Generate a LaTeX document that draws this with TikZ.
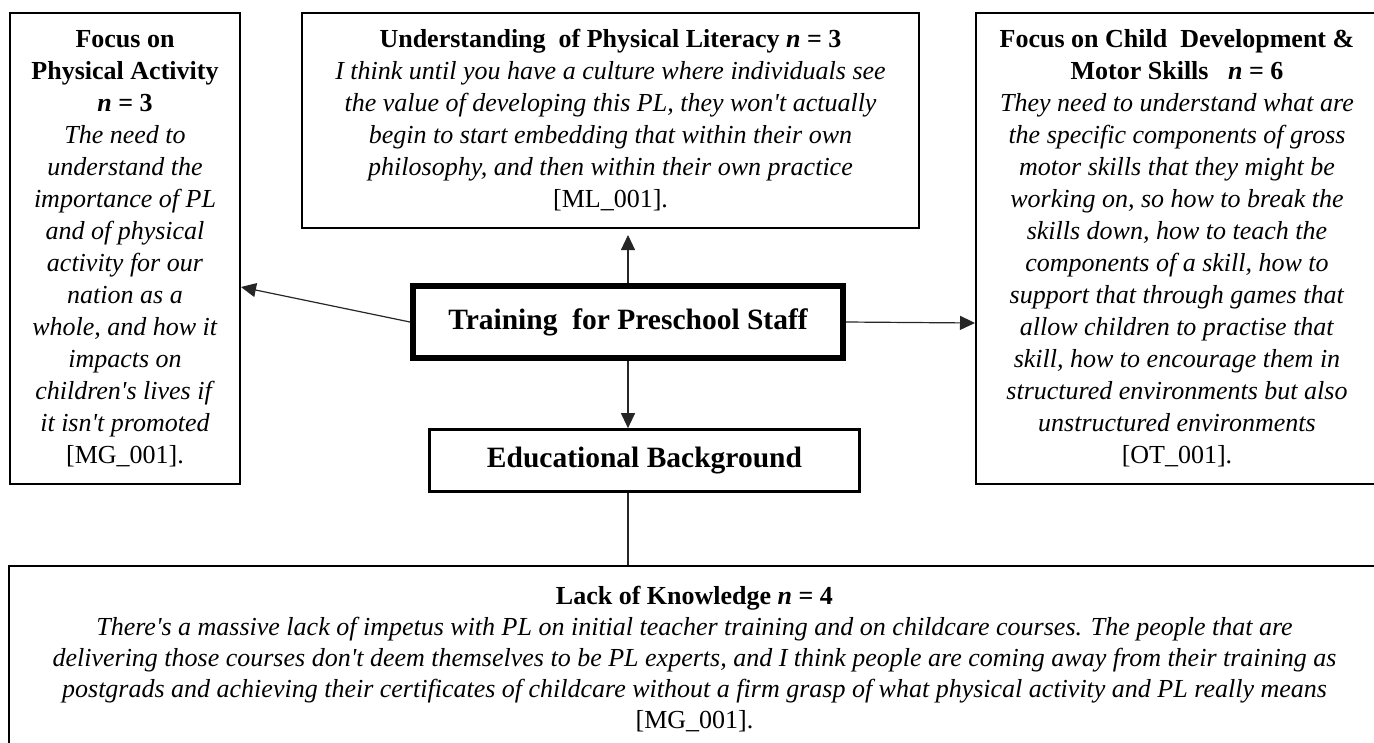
\documentclass[tikz,border=0pt]{standalone}
\usepackage{fontspec}
\setmainfont{Liberation Serif}
\usetikzlibrary{arrows.meta,calc}
\newcommand{\ap}{\textquotesingle}
\begin{document}
\begin{tikzpicture}[x=1pt,y=1pt,
  box/.style={draw, line width=2pt, inner sep=0pt, align=center,
    font=\fontsize{26}{32}\selectfont},
  mainbox/.style={draw, line width=6pt, inner sep=0pt, align=center,
    font=\fontsize{29.5}{34}\selectfont\bfseries},
  subbox/.style={draw, line width=2.7pt, inner sep=0pt, align=center,
    font=\fontsize{29.5}{34}\selectfont\bfseries},
  conn/.style={line width=1.2pt, draw=black!85},
  arr/.style={conn, -{Triangle[length=15pt,width=14pt]}}]
\useasboundingbox (0,0) rectangle (1374,-742);
\clip (0,0) rectangle (1374,-742);

\node[box, minimum width=230pt, minimum height=471pt] (pa) at (125,-248.5)
 {\textbf{Focus on}\\ \textbf{Physical Activity}\\ \textbf{\textit{n} = 3}\\
  \textit{The need to}\\ \textit{understand the}\\ \textit{importance of PL}\\
  \textit{and of physical}\\ \textit{activity for our}\\ \textit{nation as a}\\
  \textit{whole, and how it}\\ \textit{impacts on}\\ \textit{children\ap s lives if}\\
  \textit{it isn\ap t promoted}\\ {[MG\_001].}};

\node[box, minimum width=617pt, minimum height=215pt] (pl) at (610.5,-120.5)
 {\textbf{Understanding\ \ of Physical Literacy \textit{n} = 3}\\
  \textit{I think until you have a culture where individuals see}\\
  \textit{the value of developing this PL, they won\ap t actually}\\
  \textit{begin to start embedding that within their own}\\
  \textit{philosophy, and then within their own practice}\\
  {[ML\_001].}};

\node[box, minimum width=402pt, minimum height=471pt] (cd) at (1177,-248.5)
 {\textbf{Focus on Child\ \ Development \&}\\
  \textbf{Motor Skills\ \ \ \textit{n} = 6}\\
  \textit{They need to understand what are}\\
  \textit{the specific components of gross}\\
  \textit{motor skills that they might be}\\
  \textit{working on, so how to break the}\\
  \textit{skills down, how to teach the}\\
  \textit{components of a skill, how to}\\
  \textit{support that through games that}\\
  \textit{allow children to practise that}\\
  \textit{skill, how to encourage them in}\\
  \textit{structured environments but also}\\
  \textit{unstructured environments}\\
  {[OT\_001].}};

\node[mainbox, minimum width=430pt, minimum height=72pt] (train) at (628,-322)
 {Training\ \ for Preschool Staff};

\node[subbox, minimum width=430pt, minimum height=62pt] (edu) at (644.5,-460.5)
 {Educational Background};

\node[box, font=\fontsize{26}{31}\selectfont, minimum width=1371pt, minimum height=186pt] (lk) at (694.5,-659)
 {\textbf{Lack of Knowledge \textit{n} = 4}\\
  \textit{There\ap s a massive lack of impetus with PL on initial teacher training and on childcare courses. The people that are}\\
  \textit{delivering those courses don\ap t deem themselves to be PL experts, and I think people are coming away from their training as}\\
  \textit{postgrads and achieving their certificates of childcare without a firm grasp of what physical activity and PL really means}\\
  {[MG\_001].}};

\draw[arr] (train.west) -- ([yshift=-38.5pt]pa.east);
\draw[arr] (train.east) -- ([yshift=-74.5pt]cd.west);
\draw[arr, shorten >=6pt] (train.north) -- (train.north |- pl.south);
\draw[arr] (train.south) -- (train.south |- edu.north);
\draw[conn] (train.south |- edu.south) -- (train.south |- lk.north);
\end{tikzpicture}
\end{document}
